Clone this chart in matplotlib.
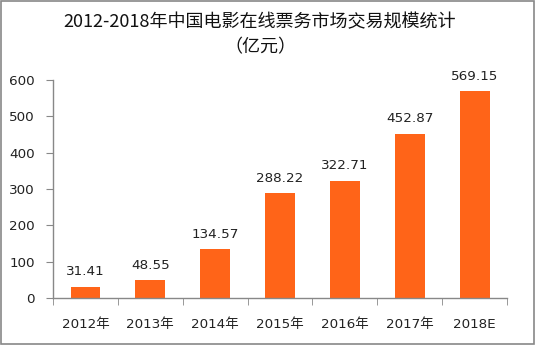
import matplotlib
matplotlib.use("Agg")
import matplotlib.pyplot as plt
from matplotlib.patches import Rectangle

categories = ["2012年", "2013年", "2014年", "2015年", "2016年", "2017年", "2018E"]
values = [31.41, 48.55, 134.57, 288.22, 322.71, 452.87, 569.15]
y_ticks = [0, 100, 200, 300, 400, 500, 600]

plt.rcParams["font.family"] = ["DejaVu Sans", "Noto Sans CJK SC"]

fig = plt.figure(figsize=(5.36, 3.45), dpi=100)
ax = fig.add_axes([0.099, 0.136, 0.847, 0.632])

bar_color = "#FF6418"
x = list(range(len(categories)))
bars = ax.bar(x, values, width=0.46, color=bar_color, zorder=2)

for xi, v in zip(x, values):
    ax.annotate(f"{v:.2f}", xy=(xi, v), xytext=(0, 6), textcoords="offset points",
                ha="center", va="bottom", fontsize=9.7, color="#222222")

ax.set_xlim(-0.5, len(categories) - 0.5)
ax.set_ylim(0, 600)
ax.set_yticks(y_ticks)
ax.set_yticklabels([str(t) for t in y_ticks], fontsize=9.7, color="#222222")
ax.set_xticks(x)
ax.set_xticklabels(categories, fontsize=9.7, color="#222222")

# category boundary ticks on the x axis
ax.set_xticks([i - 0.5 for i in range(len(categories) + 1)], minor=True)
ax.tick_params(axis="x", which="major", length=0, pad=14)
ax.tick_params(axis="x", which="minor", length=5, color="#888888", direction="out")
ax.tick_params(axis="y", length=5, color="#888888", direction="out", pad=8)

for side in ("top", "right"):
    ax.spines[side].set_visible(False)
for side in ("left", "bottom"):
    ax.spines[side].set_color("#888888")
    ax.spines[side].set_linewidth(1.0)

fig.text(0.485, 0.936, "2012-2018年中国电影在线票务市场交易规模统计",
         ha="center", va="center", fontsize=13, family=["Noto Sans CJK SC"], color="#111111")
fig.text(0.485, 0.864, "（亿元）", ha="center", va="center", fontsize=13,
         family=["Noto Sans CJK SC"], color="#111111")

fig.patches.append(Rectangle((0.002, 0.003), 0.995, 0.994, transform=fig.transFigure,
                             fill=False, edgecolor="#888888", linewidth=1.2))

fig.savefig("out.png", dpi=100)
